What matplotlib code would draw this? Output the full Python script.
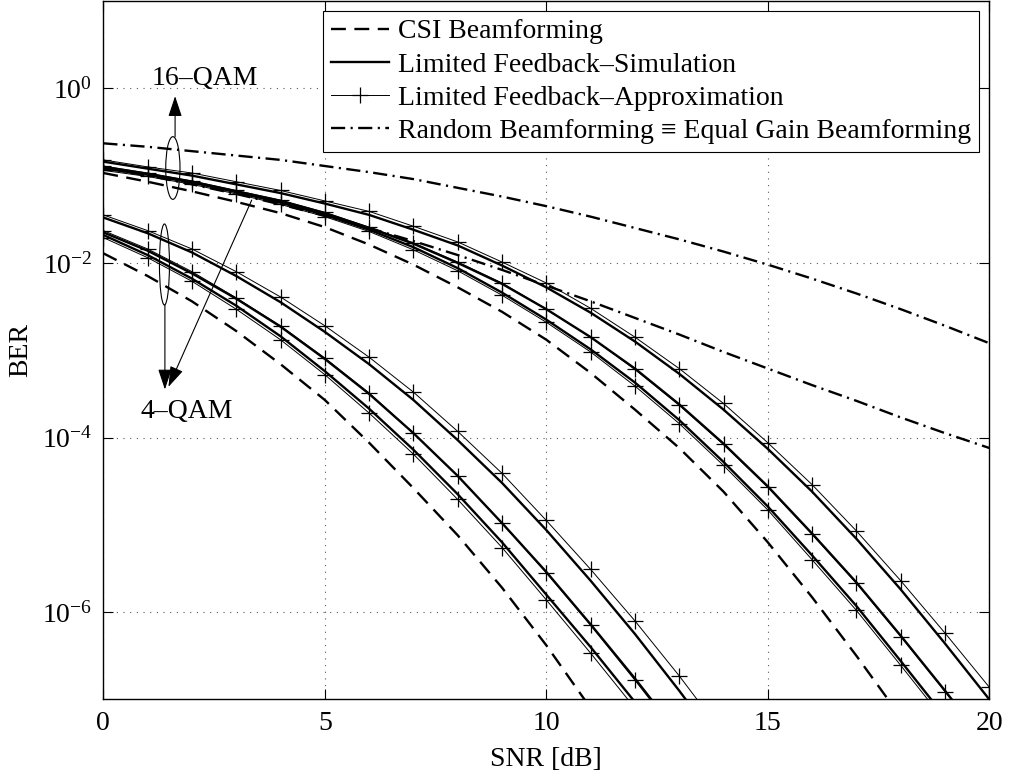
import numpy as np
import matplotlib
matplotlib.use('Agg')
import matplotlib.pyplot as plt
from matplotlib.patches import Ellipse
from matplotlib.ticker import NullLocator

plt.rcParams['font.family'] = ['Liberation Serif', 'DejaVu Serif']
plt.rcParams['mathtext.fontset'] = 'custom'
plt.rcParams['mathtext.rm'] = 'Liberation Serif'
plt.rcParams['mathtext.it'] = 'Liberation Serif:italic'
plt.rcParams['mathtext.bf'] = 'Liberation Serif:bold'

snr = np.arange(0, 21)  # dB, one point per dB

# log10(BER) per curve, starting at 0 dB
# 4-QAM
qam4_csi = [-1.89, -2.15, -2.44, -2.78, -3.16, -3.57, -4.06, -4.58, -5.12, -5.72, -6.38, -7.10]
qam4_sim_a = [-1.48, -1.66, -1.88, -2.15, -2.45, -2.79, -3.16, -3.57, -4.03, -4.52, -5.06, -5.64, -6.25, -6.90, -7.58]
qam4_apx_a = [-1.45, -1.63, -1.84, -2.10, -2.39, -2.72, -3.08, -3.48, -3.93, -4.41, -4.95, -5.51, -6.10, -6.73, -7.40]
qam4_sim_b = [-1.65, -1.86, -2.12, -2.41, -2.73, -3.10, -3.50, -3.95, -4.44, -4.98, -5.54, -6.14, -6.76, -7.41]
qam4_apx_b = [-1.63, -1.84, -2.10, -2.40, -2.72, -3.09, -3.49, -3.95, -4.44, -4.98, -5.55, -6.15, -6.78, -7.43]
qam4_sim_c = [-1.68, -1.91, -2.18, -2.49, -2.84, -3.24, -3.67, -4.14, -4.65, -5.20, -5.80, -6.40, -7.03]
qam4_apx_c = [-1.71, -1.94, -2.21, -2.53, -2.88, -3.28, -3.72, -4.19, -4.71, -5.26, -5.86, -6.47, -7.10]
qam4_rand = [-0.91, -1.00, -1.10, -1.21, -1.33, -1.46, -1.60, -1.75, -1.91, -2.08, -2.26,
             -2.44, -2.63, -2.82, -3.02, -3.21, -3.40, -3.58, -3.77, -3.95, -4.12]

# 16-QAM
qam16_csi = [-0.97, -1.07, -1.18, -1.30, -1.43, -1.59, -1.79, -2.02, -2.28, -2.56, -2.88,
             -3.26, -3.68, -4.12, -4.62, -5.20, -5.83, -6.50, -7.20]
qam16_sim_a = [-0.84, -0.92, -1.00, -1.10, -1.20, -1.32, -1.45, -1.62, -1.80, -2.03, -2.28,
               -2.57, -2.90, -3.27, -3.68, -4.13, -4.62, -5.16, -5.74, -6.36, -7.00]
qam16_apx_a = [-0.82, -0.90, -0.97, -1.07, -1.17, -1.29, -1.41, -1.58, -1.76, -1.99, -2.23,
               -2.52, -2.85, -3.21, -3.61, -4.06, -4.54, -5.07, -5.64, -6.24, -6.86]
qam16_sim_b = [-0.90, -0.98, -1.07, -1.18, -1.29, -1.43, -1.60, -1.78, -2.00, -2.24, -2.53,
               -2.85, -3.21, -3.62, -4.07, -4.56, -5.10, -5.66, -6.27, -6.90, -7.55]
qam16_apx_b = [-0.89, -0.97, -1.06, -1.17, -1.28, -1.42, -1.59, -1.77, -1.99, -2.23, -2.53,
               -2.85, -3.22, -3.63, -4.08, -4.57, -5.11, -5.67, -6.28, -6.91, -7.57]
qam16_sim_c = [-0.92, -0.99, -1.08, -1.19, -1.31, -1.45, -1.62, -1.82, -2.06, -2.34, -2.65,
               -2.99, -3.37, -3.80, -4.28, -4.79, -5.35, -5.93, -6.56, -7.20]
qam16_apx_c = [-0.94, -1.01, -1.10, -1.21, -1.33, -1.47, -1.64, -1.85, -2.09, -2.37, -2.68,
               -3.02, -3.41, -3.84, -4.32, -4.83, -5.40, -5.98, -6.61, -7.25]
qam16_rand = [-0.63, -0.67, -0.72, -0.77, -0.82, -0.89, -0.96, -1.04, -1.14, -1.24, -1.35,
              -1.47, -1.60, -1.73, -1.87, -2.02, -2.18, -2.35, -2.53, -2.72, -2.92]

legend_labels = ['CSI Beamforming',
                 'Limited Feedback\u2013Simulation',
                 'Limited Feedback\u2013Approximation',
                 'Random Beamforming \u2261 Equal Gain Beamforming']

FS = 20
LW = 1.7
dash = (6.3, 3.6)
dashdot = (6.0, 2.3, 0.9, 2.3)


def ber(logs):
    return snr[:len(logs)], 10.0 ** np.asarray(logs)


fig = plt.figure(figsize=(10.1, 7.76), dpi=100)
ax = fig.add_axes([0.1023, 0.0987, 0.8772, 0.9000])

groups = [
    (qam4_csi, [qam4_sim_a, qam4_sim_b, qam4_sim_c], [qam4_apx_a, qam4_apx_b, qam4_apx_c], qam4_rand),
    (qam16_csi, [qam16_sim_a, qam16_sim_b, qam16_sim_c], [qam16_apx_a, qam16_apx_b, qam16_apx_c], qam16_rand),
]

for g, (csi, sims, apxs, rand) in enumerate(groups):
    first = g == 0
    ax.plot(*ber(csi), color='k', lw=LW, dashes=dash,
            label=legend_labels[0] if first else '_nolegend_')
    for i, s in enumerate(sims):
        ax.plot(*ber(s), color='k', lw=LW,
                label=legend_labels[1] if first and i == 0 else '_nolegend_')
    for i, a in enumerate(apxs):
        ax.plot(*ber(a), color='k', lw=0.7, marker='+', ms=11, mew=0.9,
                label=legend_labels[2] if first and i == 0 else '_nolegend_')
    ax.plot(*ber(rand), color='k', lw=LW, dashes=dashdot,
            label=legend_labels[3] if first else '_nolegend_')

ax.set_yscale('log')
ax.set_xlim(0, 20)
ax.set_ylim(1e-7, 1e1)
ax.set_xticks([0, 5, 10, 15, 20])
ax.set_yticks([1e0, 1e-2, 1e-4, 1e-6])
ax.yaxis.set_minor_locator(NullLocator())
ax.tick_params(direction='in', top=True, right=True, length=7, width=0.8,
               labelsize=FS, pad=8)
ax.grid(True, color='0.35', linestyle=(0, (1, 5)), lw=0.8)
for sp in ax.spines.values():
    sp.set_linewidth(1.0)

ax.set_xlabel('SNR [dB]', fontsize=FS, labelpad=8)
ax.set_ylabel('BER', fontsize=FS, labelpad=6)

leg = ax.legend(loc='upper right', bbox_to_anchor=(0.9887, 0.9861), borderaxespad=0,
                fancybox=False, edgecolor='k', framealpha=1, fontsize=FS,
                handlelength=2.1, handletextpad=0.3, borderpad=0.3, labelspacing=0.28)
leg.get_frame().set_linewidth(0.8)


def ring(x, y, w, h):
    # ellipse drawn in axes fraction so the log scale does not distort it
    cx, cy = ax.transAxes.inverted().transform(ax.transData.transform((x, y)))
    ax.add_patch(Ellipse((cx, cy), w, h, transform=ax.transAxes,
                         fill=False, ec='k', lw=0.8))


arrow = dict(arrowstyle='-|>,head_length=0.9,head_width=0.3', color='k', lw=0.8,
             shrinkA=0, shrinkB=0, mutation_scale=14)

# 16-QAM marker group
ring(1.57, 10 ** -0.913, 0.0161, 0.0898)
ax.annotate('', xy=(1.62, 10 ** -0.09), xytext=(1.62, 10 ** -0.555), arrowprops=arrow)
ax.text(2.30, 10 ** 0.11, '16\u2013QAM', ha='center', va='center', fontsize=FS)

# 4-QAM marker group
ring(1.38, 10 ** -2.018, 0.0113, 0.116)
ax.annotate('', xy=(1.39, 10 ** -3.45), xytext=(1.39, 10 ** -2.48), arrowprops=arrow)
ax.annotate('', xy=(1.47, 10 ** -3.42), xytext=(3.35, 10 ** -1.28), arrowprops=arrow)
ax.text(1.88, 10 ** -3.70, '4\u2013QAM', ha='center', va='center', fontsize=FS)

fig.savefig('out.png', dpi=100)
